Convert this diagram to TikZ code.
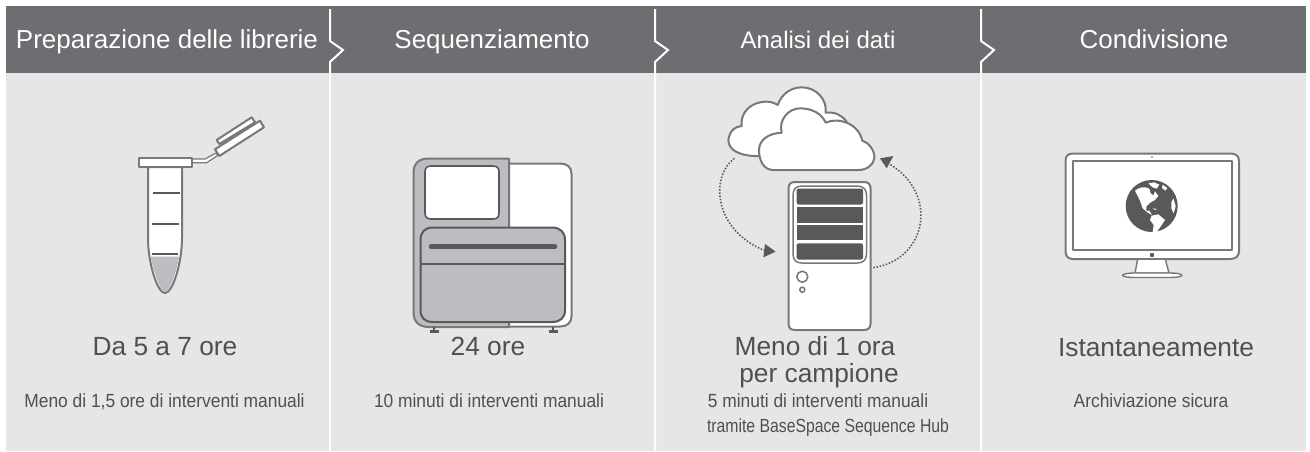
\documentclass[tikz,border=0pt]{standalone}
\usepackage{fontspec}
\setmainfont{Liberation Sans}
\newfontfamily\narrowa[FakeStretch=0.915]{Liberation Sans}
\newfontfamily\narrowb[FakeStretch=0.83]{Liberation Sans}
\usetikzlibrary{arrows.meta}
\definecolor{hdr}{HTML}{6D6E71}
\definecolor{pnl}{HTML}{E6E6E6}
\definecolor{ink}{HTML}{58595B}
\definecolor{edge}{HTML}{77787B}
\definecolor{fillg}{HTML}{BCBDC0}
\definecolor{txt}{HTML}{505052}
\tikzset{
  x=1pt,y=-1pt,
  title/.style={text=white,font=\fontsize{26}{26}\selectfont,anchor=base,inner sep=0pt},
  big/.style={text=txt,font=\fontsize{26.3}{27}\selectfont,anchor=base,inner sep=0pt,align=center},
  small/.style={text=txt,font=\narrowa\fontsize{19}{21}\selectfont,anchor=base,inner sep=0pt},
  smallb/.style={text=txt,font=\narrowb\fontsize{19}{21}\selectfont,anchor=base,inner sep=0pt},
  ic/.style={draw=edge,fill=white,line width=2pt,line join=round},
  sep/.style={draw=white,line width=2pt},
  dotline/.style={draw=ink,line width=1.6pt,dash pattern=on 1.5pt off 1.7pt},
  tip/.style={fill=ink,draw=none},
  zoomed/.style={shift={#1},x=0.33333pt,y=-0.33333pt}
}
\begin{document}
\begin{tikzpicture}
\useasboundingbox (0,0) rectangle (1310,451);
\fill[white] (0,0) rectangle (1310,451);
\fill[pnl] (6,73) rectangle (1306,451);
\fill[hdr] (6,6) rectangle (1306,73);
% separators
\foreach \s in {330,655,981}{
  \draw[sep] (\s,9) -- (\s,41) -- (\s+13,50) -- (\s,62) -- (\s,451);
}
% titles
\node[title] (t1) at (167,48) {Preparazione delle librerie};
\node[title] (t2) at (492,48) {Sequenziamento};
\node[title,font=\fontsize{24}{24}\selectfont] (t3) at (818,48) {Analisi dei dati};
\node[title] (t4) at (1154,48) {Condivisione};
% texts
\node[big] (b1) at (165,355) {Da 5 a 7 ore};
\node[small] (s1) at (164.5,407) {Meno di 1,5 ore di interventi manuali};
\node[big] (b2) at (488,355) {24 ore};
\node[small] (s2) at (489,407) {10 minuti di interventi manuali};
\node[big] (b3a) at (815,355) {Meno di 1 ora};
\node[big] (b3b) at (819,382) {per campione};
\node[small] (s3a) at (818,407) {5 minuti di interventi manuali};
\node[smallb] (s3b) at (828,432) {tramite BaseSpace Sequence Hub};
\node[big] (b4) at (1156,356) {Istantaneamente};
\node[small] (s4) at (1151,407) {Archiviazione sicura};
% tube
\draw[ic] (148,167) -- (148,238) .. controls (148,262) and (157,293) .. (165,293) .. controls (173,293) and (182,262) .. (182,238) -- (182,167) -- cycle;
\fill[fillg] (150.5,256.5) -- (179.5,256.5) .. controls (176,272) and (170,292) .. (165,292) .. controls (160,292) and (154,272) .. (150.5,256.5) -- cycle;
\foreach \a/\b/\c in {152.5/180/193.3,151.7/179/224,151.7/178.3/254}{
  \draw[draw=ink,line width=2pt] (\a,\c) -- (\b,\c);
}
\draw[ic,line width=1.2pt] (191.7,159) -- (205,159) -- (216.7,152.7) -- (217.3,155.7) -- (206.7,162.7) -- (191.7,162.7) -- cycle;
\draw[ic] (216.7,140) -- (251.7,117.3) -- (255,122.3) -- (219.3,144) -- cycle;
\draw[ic] (215,149.3) -- (260,120.7) -- (264,127.3) -- (219.3,156) -- cycle;
\draw[ic] (138.5,157.5) rectangle (191.5,166.5);
% sequencer
\draw[ic] (505,163.5) -- (560,163.5) .. controls (567,163.5) and (571.5,167) .. (571.5,174) -- (571.5,316) .. controls (571.5,323) and (567,326.5) .. (560,326.5) -- (505,326.5) -- cycle;
\draw[ic,fill=fillg] (509,158.5) -- (429,158.5) .. controls (419,158.5) and (413.5,163) .. (413.5,173) -- (413.5,312) .. controls (413.5,322) and (419,327) .. (429,327) -- (509,327) -- cycle;
\draw[ic,draw=ink,fill=white,line width=1.6pt] (431,166) -- (493,166) .. controls (497,166) and (499,168) .. (499,172) -- (499,213) .. controls (499,217) and (497,219) .. (493,219) -- (431,219) .. controls (427,219) and (425,217) .. (425,213) -- (425,172) .. controls (425,168) and (427,166) .. (431,166) -- cycle;
\draw[ic,fill=fillg,draw=ink] (433,227.5) -- (552,227.5) .. controls (560,227.5) and (565,232) .. (565,240) -- (565,310) .. controls (565,318) and (560,322) .. (552,322) -- (433,322) .. controls (425,322) and (420.5,318) .. (420.5,310) -- (420.5,240) .. controls (420.5,232) and (425,227.5) .. (433,227.5) -- cycle;
\draw[draw=ink,line width=1.8pt] (420.5,264) -- (565,264);
\draw[draw=ink,line width=4.5pt,line cap=round] (431,246.7) -- (555,246.7);
\foreach \f in {434,553}{
  \draw[draw=ink,line width=2.5pt] (\f,327) -- (\f,331);
  \draw[draw=ink,line width=2.2pt] (\f-4.5,331.5) -- (\f+4.5,331.5);
}
% tower
\draw[ic] (795,182) -- (864,182) .. controls (868,182) and (870.5,184) .. (870.5,188) -- (870.5,324) .. controls (870.5,328) and (868,330) .. (864,330) -- (795,330) .. controls (791,330) and (788.5,328) .. (788.5,324) -- (788.5,188) .. controls (788.5,184) and (791,182) .. (795,182) -- cycle;
\draw[ic,line width=1.5pt] (802,186) -- (857,186) .. controls (863,186) and (866.5,189) .. (866.5,195) -- (866.5,254) .. controls (866.5,260) and (863,263) .. (857,263) -- (802,263) .. controls (796,263) and (793,260) .. (793,254) -- (793,195) .. controls (793,189) and (796,186) .. (802,186) -- cycle;
\fill[ink,rounded corners=2pt] (796.7,188.5) rectangle (863,204.5);
\fill[ink] (796.7,207.3) rectangle (863,222.7);
\fill[ink] (796.7,225.3) rectangle (863,240.3);
\fill[ink,rounded corners=2pt] (796.7,243.3) rectangle (863,259.5);
\node[circle,draw=edge,fill=white,line width=1.5pt,minimum size=11pt,inner sep=0pt] (led1) at (802.3,276.7) {};
\node[circle,draw=edge,fill=white,line width=1.5pt,minimum size=5pt,inner sep=0pt] (led2) at (802.3,289.7) {};
% clouds and cycle arrows
\begin{scope}[zoomed={(710,80)}]
\draw[ic] (150,228) .. controls (100,230) and (55,215) .. (55,180) .. controls (60,150) and (75,140) .. (95,138) .. controls (90,100) and (120,65) .. (170,65) .. controls (185,65) and (195,70) .. (203,75) .. controls (215,40) and (245,22) .. (275,22) .. controls (320,22) and (352,60) .. (347,98) .. controls (375,95) and (395,105) .. (410,125) -- cycle;
\draw[ic] (190,270) .. controls (160,270) and (147,240) .. (147,210) .. controls (147,180) and (175,160) .. (215,158) .. controls (205,120) and (235,85) .. (270,85) .. controls (305,85) and (335,100) .. (347,128) .. controls (385,110) and (445,130) .. (457,182) .. controls (480,190) and (495,215) .. (493,235) .. controls (490,255) and (470,270) .. (445,270) -- cycle;
\coordinate (c1) at (73,235);
\coordinate (c2) at (165,512);
\coordinate (c3) at (490,563);
\coordinate (c4) at (535,250);
\draw[dotline] (c1) .. controls (0,290) and (10,450) .. (c2);
\fill[tip] (197,515) -- (165,492) -- (160,532) -- cycle;
\draw[dotline] (c3) .. controls (650,540) and (690,340) .. (c4);
\fill[tip] (510,235) -- (550,228) -- (530,265) -- cycle;
\end{scope}
% monitor
\draw[ic] (1073,153.5) -- (1230,153.5) .. controls (1236,153.5) and (1239,156) .. (1239,161) -- (1239,251) .. controls (1239,256) and (1236,259) .. (1230,259) -- (1073,259) .. controls (1068,259) and (1065.5,256) .. (1065.5,251) -- (1065.5,161) .. controls (1065.5,156) and (1068,153.5) .. (1073,153.5) -- cycle;
\draw[ic,line width=1.7pt] (1072.7,160.7) rectangle (1232.3,250);
\fill[ink] (1152,157) circle (0.8);
\fill[ink] (1152,255) circle (2.2);
\draw[ic,line width=1.4pt] (1137.5,260) -- (1135,273) -- (1169,273) -- (1165.5,260);
\draw[ic,line width=1.4pt] (1122.5,275.3) .. controls (1123,274) and (1128,273) .. (1134,273) -- (1170,273) .. controls (1177,273) and (1182,274) .. (1182,275.3) .. controls (1182,276.5) and (1177,277.5) .. (1170,277.5) -- (1134,277.5) .. controls (1128,277.5) and (1123,276.5) .. (1122.5,275.3) -- cycle;
% globe
\fill[ink] (1151.7,206) circle (26);
\begin{scope}[zoomed={(1110,170)}]
\fill[white] (75,62) .. controls (85,52) and (105,48) .. (118,56) -- (122,70) -- (130,76) -- (135,64) -- (145,78) -- (135,90) -- (122,97) -- (110,108) -- (108,122) -- (118,122) -- (126,135) -- (112,127) -- (98,115) -- (90,92) -- cycle;
\fill[white] (115,40) -- (132,37) -- (148,44) -- (140,56) -- (128,52) -- cycle;
\fill[white] (158,44) -- (172,54) -- (166,62) -- (156,54) -- cycle;
\fill[white] (125,137) -- (145,133) -- (165,150) -- (155,165) -- (140,186) -- (128,187) -- (131,165) -- (120,150) -- cycle;
\fill[white] (190,85) -- (197,108) -- (191,130) -- (184,115) -- (184,97) -- cycle;
\fill[white] (128,115) -- (140,117) -- (136,120) -- cycle;
\end{scope}
\end{tikzpicture}
\end{document}
